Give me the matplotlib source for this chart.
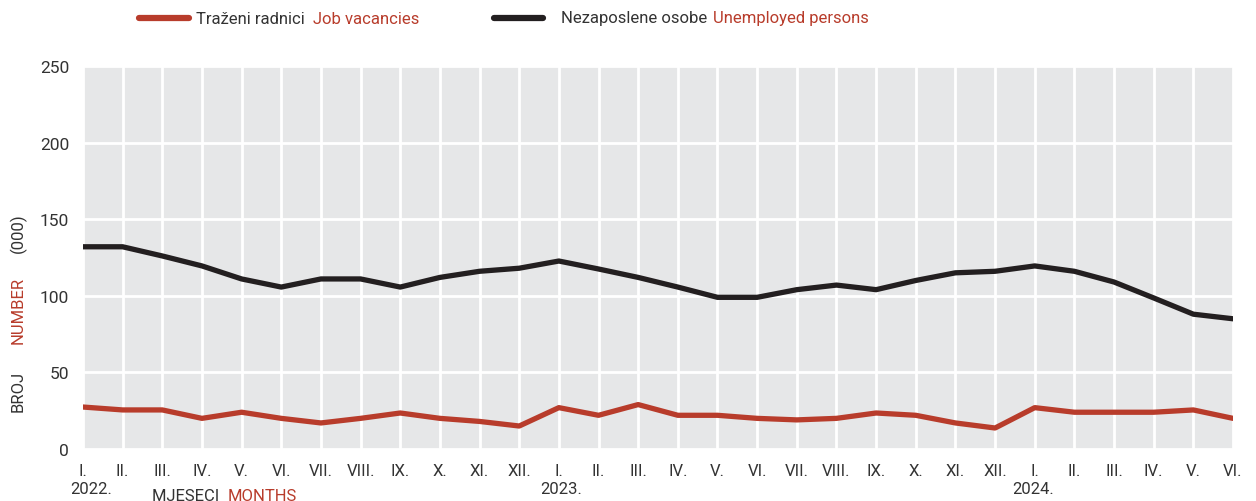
import matplotlib
matplotlib.use("Agg")
import matplotlib.pyplot as plt
from matplotlib.lines import Line2D

months = ["I.", "II.", "III.", "IV.", "V.", "VI.", "VII.", "VIII.", "IX.", "X.", "XI.", "XII.",
          "I.", "II.", "III.", "IV.", "V.", "VI.", "VII.", "VIII.", "IX.", "X.", "XI.", "XII.",
          "I.", "II.", "III.", "IV.", "V.", "VI."]
years = ["2022.", "2023.", "2024."]
year_idx = [0, 12, 24]

unemployed = [132, 132, 126, 119.5, 111, 105.7, 111, 111, 105.7, 112, 116, 118,
              122.7, 117.5, 112, 105.7, 99, 99, 104, 107, 104, 110, 115, 116,
              119.5, 116, 109, 98.6, 88, 85]
vacancies = [27.4, 25.5, 25.5, 20, 24, 20, 17, 20, 23.5, 20, 18, 15,
             27, 22, 29, 22, 22, 20, 19, 20, 23.5, 22, 17, 13.7,
             27, 24, 24, 24, 25.5, 20]
yticks = [0, 50, 100, 150, 200, 250]

RED = "#B83C2B"
BLACK = "#231F20"
TXT = "#333333"
FONT = ["Liberation Sans Narrow", "Roboto", "DejaVu Sans"]
plt.rcParams["font.family"] = FONT

fig = plt.figure(figsize=(12.56, 5.02), dpi=100)
ax = fig.add_axes([83/1256, 1-450/502, 1150/1256, 383/502])
ax.set_facecolor("#E6E7E8")
x = list(range(len(months)))
ax.plot(x, unemployed, color=BLACK, lw=3.8, solid_capstyle="round", zorder=3)
ax.plot(x, vacancies, color=RED, lw=3.8, solid_capstyle="round", zorder=3)
ax.set_xlim(0, len(months) - 1)
ax.set_ylim(0, 250)
ax.set_yticks(yticks)
ax.set_yticklabels([str(v) for v in yticks], fontsize=12.5, color=TXT)
ax.set_xticks(x)
ax.set_xticklabels(months, fontsize=12, color=TXT)
ax.tick_params(length=0, pad=10)
ax.grid(True, color="white", lw=2)
ax.set_axisbelow(True)
for s in ax.spines.values():
    s.set_visible(False)

year_shift = [0.2, 0.05, -0.05]
for i, yl, sh in zip(year_idx, years, year_shift):
    ax.text(i + sh, -25.5, yl, ha="center", va="center", fontsize=12, color=TXT,
            transform=ax.transData, clip_on=False)

fig.text(152/1256, 1-497/502, "MJESECI ", ha="left", va="center", fontsize=12, color=TXT)
fig.text(228/1256, 1-497/502, "MONTHS", ha="left", va="center", fontsize=12, color=RED)

# y label
fig.text(18/1256, 1-391/502, "BROJ", rotation=90, ha="center", va="center", fontsize=12, color=TXT)
fig.text(18/1256, 1-310/502, "NUMBER", rotation=90, ha="center", va="center", fontsize=12, color=RED)
fig.text(18/1256, 1-233/502, "(000)", rotation=90, ha="center", va="center", fontsize=12, color=TXT)

# legend
ly = 1 - 19/502
fig.add_artist(Line2D([139/1256, 189/1256], [ly, ly], color=RED, lw=4.5, solid_capstyle="round"))
fig.text(196/1256, ly, "Traženi radnici", ha="left", va="center", fontsize=12, color=TXT)
fig.text(313/1256, ly, "Job vacancies", ha="left", va="center", fontsize=12, color=RED)
fig.add_artist(Line2D([494/1256, 543/1256], [ly, ly], color=BLACK, lw=4.5, solid_capstyle="round"))
fig.text(561/1256, ly, "Nezaposlene osobe", ha="left", va="center", fontsize=12, color=TXT)
fig.text(713/1256, ly, "Unemployed persons", ha="left", va="center", fontsize=12, color=RED)

fig.savefig("out.png", dpi=100)
